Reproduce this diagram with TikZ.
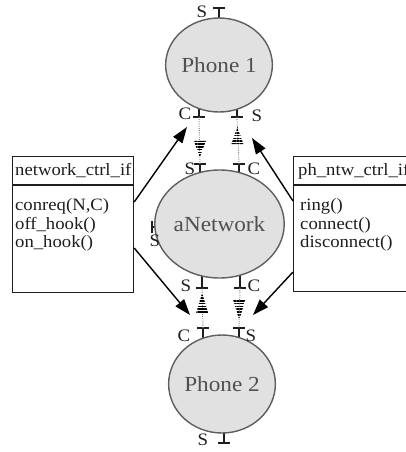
\documentclass[tikz,border=0pt]{standalone}
\usepackage{fontspec}
\setmainfont{Liberation Serif}[FakeStretch=1.08]
\usetikzlibrary{shapes.geometric,arrows.meta,patterns.meta,calc}
\definecolor{rimgray}{HTML}{5E5E5E}
\definecolor{bodygray}{HTML}{E1E1E1}
\definecolor{namegray}{HTML}{505050}
\definecolor{inkgray}{HTML}{1E1E1E}
\begin{document}
\begin{tikzpicture}[x=1pt,y=-1pt,
  obj/.style={ellipse, draw=rimgray, line width=1.4pt, fill=bodygray,
    text=namegray, font=\fontsize{21.5}{24}\selectfont, inner sep=0pt},
  port/.style={draw=inkgray, line width=1.1pt},
  plabel/.style={font=\fontsize{17.5}{20}\selectfont, text=inkgray, inner sep=0pt},
  ifbox/.style={draw=inkgray, line width=1.2pt, inner sep=0pt, anchor=north west},
  iftext/.style={font=\fontsize{17.3}{19}\selectfont, text=inkgray,
    anchor=base west, inner sep=0pt},
  flow/.style={draw=gray, line width=1pt, dash pattern=on 0.9pt off 1.3pt},
  call/.style={draw=black, line width=1.4pt, -{Triangle[length=16pt,width=11pt]}},
  pics/stripedhead/.style={code={
    \fill[pattern={Lines[angle=0,distance=2.8pt,line width=1.7pt]}, pattern color=black]
      (0,0) -- (-6,#1) -- (6,#1) -- cycle;}}
]
\useasboundingbox (0,0) rectangle (406,452);
\clip (0,0) rectangle (406,452);

% port ends (crossbar centres)
\coordinate (p1top) at (219,8);
\coordinate (p1C) at (199,117);
\coordinate (p1S) at (237,117);
\coordinate (nS) at (200,164);
\coordinate (nC) at (239,164);
\coordinate (nL) at (152,227);
\coordinate (nSb) at (202,288);
\coordinate (nCb) at (240,288);
\coordinate (p2C) at (203,328);
\coordinate (p2S) at (239,328);
\coordinate (p2bot) at (224,443);

% port stems, partly hidden under the objects
\draw[port] (p1top) -- ++(0,14);
\draw[port] (p1C) -- ++(0,-14);
\draw[port] (p1S) -- ++(0,-14);
\draw[port] (nS) -- ++(0,14);
\draw[port] (nC) -- ++(0,14);
\draw[port] (nL) -- ++(16,0);
\draw[port] (nSb) -- ++(0,-16);
\draw[port] (nCb) -- ++(0,-16);
\draw[port] (p2C) -- ++(0,16);
\draw[port] (p2S) -- ++(0,16);
\draw[port] (p2bot) -- ++(0,-14);

% objects
\node[obj, minimum width=101pt, minimum height=94pt] (phone1) at (219,65) {Phone 1};
\node[obj, minimum width=115pt, minimum height=108pt] (net) at (219.5,224) {aNetwork};
\node[obj, minimum width=90pt, minimum height=98pt] (phone2) at (222,384) {Phone 2};

% crossbars
\foreach \p in {p1top,p1C,p1S,nS,nC,nSb,nCb,p2C,p2S,p2bot}
  \draw[port] ($(\p)+(-6,0)$) -- ($(\p)+(6,0)$);
\draw[port] ($(nL)+(0,-6)$) -- ($(nL)+(0,6)$);

% port names
\node[plabel] (l1) at (202,12) {S};
\node[plabel] (l2) at (185,114) {C};
\node[plabel] (l3) at (257,115.5) {S};
\node[plabel] (l4) at (190,169) {S};
\node[plabel] (l5) at (254,169) {C};
\node[plabel] (l6) at (155,241) {S};
\node[plabel] (l7) at (186,286) {S};
\node[plabel] (l8) at (254,286) {C};
\node[plabel] (l9) at (184,336) {C};
\node[plabel] (l10) at (251,336) {S};
\node[plabel] (l11) at (203,440) {S};

% message flows between ports
\draw[flow] (p1C) -- (nS);
\draw[flow] (nC) -- (p1S);
\draw[flow] (p2C) -- (nSb);
\draw[flow] (nCb) -- (p2S);
\pic at ($(p1C)!0.85!(nS)$) {stripedhead=-16};
\pic at ($(nC)!0.787!(p1S)$) {stripedhead=17};
\pic at ($(p2C)!0.875!(nSb)$) {stripedhead=20};
\pic at ($(nCb)!0.8!(p2S)$) {stripedhead=-20};

% interfaces
\node[ifbox, minimum width=121pt, minimum height=136pt] (ifL) at (12,156) {};
\draw[port] ($(ifL.north west)+(0,29)$) -- ($(ifL.north east)+(0,29)$);
\node[iftext] (ifLname) at (15,175) {network\_ctrl\_if};
\node[iftext] (ifL1) at (15,210.5) {conreq(N,C)};
\node[iftext] (ifL2) at (15,229) {off\_hook()};
\node[iftext] (ifL3) at (15,247.5) {on\_hook()};

\node[ifbox, minimum width=130pt, minimum height=135pt] (ifR) at (293,156) {};
\draw[port] ($(ifR.north west)+(0,29)$) -- ($(ifR.north east)+(0,29)$);
\node[iftext] (ifRname) at (298,175) {ph\_ntw\_ctrl\_if};
\node[iftext] (ifR1) at (300,210.5) {ring()};
\node[iftext] (ifR2) at (300,229) {connect()};
\node[iftext] (ifR3) at (300,247.5) {disconnect()};

% interface use
\coordinate (aim1) at (187,127);
\coordinate (aim2) at (190,315);
\coordinate (aim3) at (252,138);
\coordinate (aim4) at (253,315);
\draw[call] ($(ifL.north east)+(0,46)$) -- (aim1);
\draw[call] ($(ifL.north east)+(0,92)$) -- (aim2);
\draw[call] ($(ifR.north west)+(0,45)$) -- (aim3);
\draw[call] ($(ifR.north west)+(0,116)$) -- (aim4);
\end{tikzpicture}
\end{document}
